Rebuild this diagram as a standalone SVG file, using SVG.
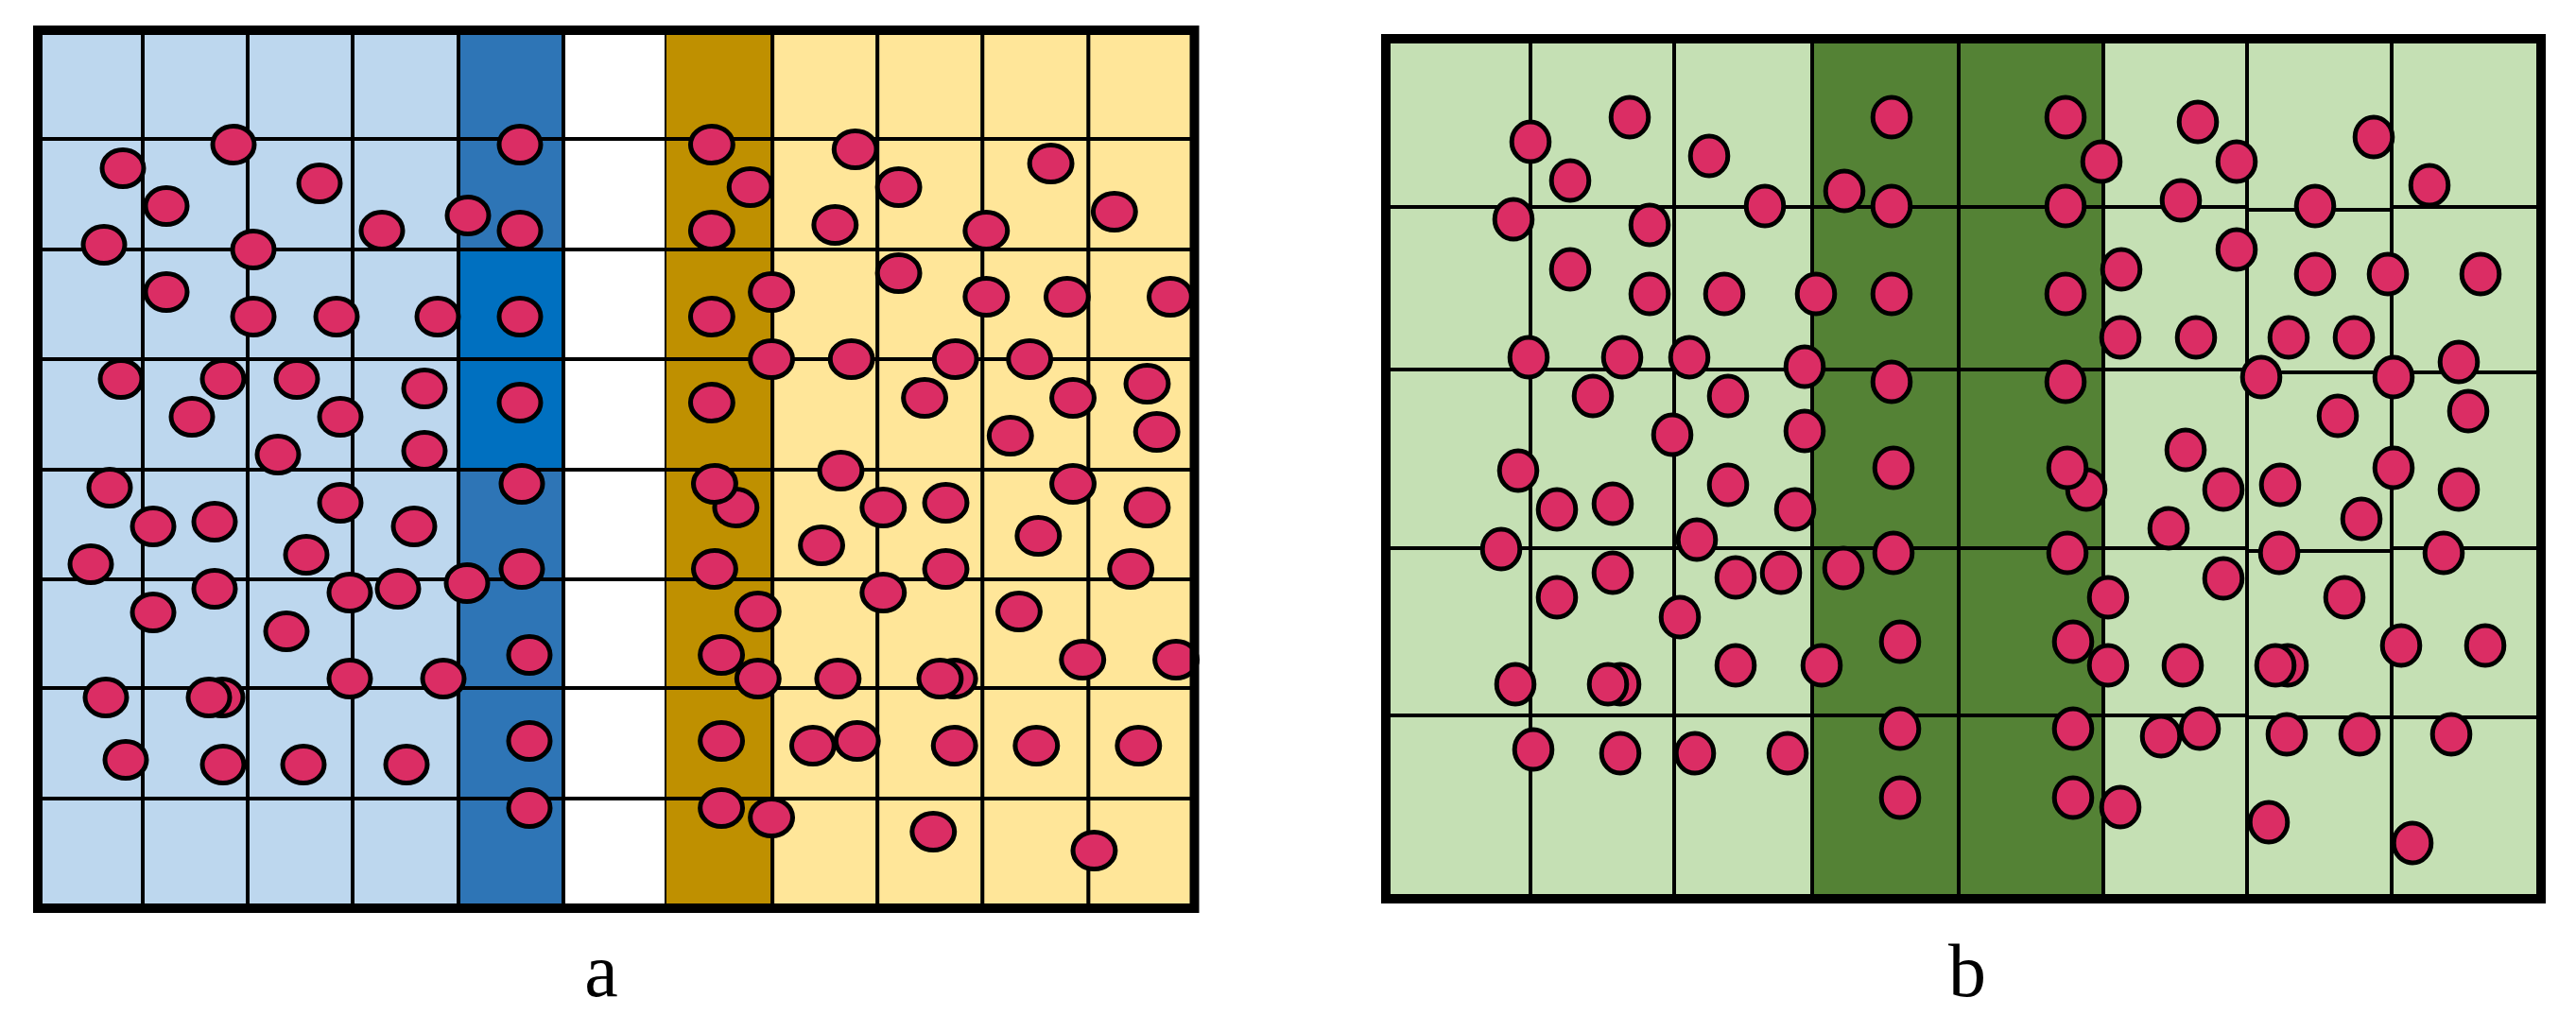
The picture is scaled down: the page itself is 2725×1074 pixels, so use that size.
<svg xmlns="http://www.w3.org/2000/svg" width="2725" height="1074" viewBox="0 0 2725 1074">
<style>
.grid{fill:none;stroke:#000;stroke-width:4}
.frame{fill:none;stroke:#000;stroke-width:10}
.dot{fill:#DB2D64;stroke:#000;stroke-width:5}
.lbl{font-family:"Liberation Serif","Times New Roman",serif;font-size:80px;fill:#000;text-anchor:middle}
</style>
<defs>
<ellipse id="pa" class="dot" cx="0" cy="0" rx="22" ry="19.5"/>
<ellipse id="pb" class="dot" cx="0" cy="0" rx="19.8" ry="21"/>
</defs>
<rect width="2725" height="1074" fill="#fff"/>

<g id="panel-a">
<rect x="40" y="32" width="445" height="929" fill="#BDD7EE"/>
<rect x="485" y="32" width="111" height="232" fill="#2E75B6"/>
<rect x="485" y="264" width="111" height="233" fill="#0070C0"/>
<rect x="485" y="497" width="111" height="464" fill="#2E75B6"/>
<rect x="596" y="32" width="109" height="929" fill="#FFFFFF"/>
<path class="grid" d="M151 32V961M262 32V961M373 32V961M485 32V961M596 32V961M705 32V961M40 147H705M40 264H705M40 380H705M40 497H705M40 613H705M40 728H705M40 845H705"/>
<g id="dots-a-left">
<use href="#pa" x="247" y="153"/><use href="#pa" x="550" y="153"/><use href="#pa" x="130" y="178"/><use href="#pa" x="176" y="218"/><use href="#pa" x="338" y="194"/><use href="#pa" x="110" y="259"/><use href="#pa" x="268" y="264"/><use href="#pa" x="404" y="244"/><use href="#pa" x="495" y="228"/><use href="#pa" x="550" y="244"/><use href="#pa" x="176" y="309"/><use href="#pa" x="268" y="335"/><use href="#pa" x="356" y="335"/><use href="#pa" x="463" y="335"/><use href="#pa" x="550" y="335"/><use href="#pa" x="128" y="401"/><use href="#pa" x="236" y="401"/><use href="#pa" x="314" y="401"/><use href="#pa" x="449" y="411"/><use href="#pa" x="550" y="426"/><use href="#pa" x="203" y="441"/><use href="#pa" x="360" y="441"/><use href="#pa" x="294" y="481"/><use href="#pa" x="449" y="477"/>
<use href="#pa" x="116" y="516"/><use href="#pa" x="552" y="512"/><use href="#pa" x="360" y="532"/><use href="#pa" x="162" y="557"/><use href="#pa" x="227" y="552"/><use href="#pa" x="438" y="557"/><use href="#pa" x="324" y="587"/><use href="#pa" x="96" y="597"/><use href="#pa" x="227" y="623"/><use href="#pa" x="370" y="627"/><use href="#pa" x="421" y="623"/><use href="#pa" x="494" y="617"/><use href="#pa" x="552" y="602"/><use href="#pa" x="162" y="648"/><use href="#pa" x="303" y="668"/><use href="#pa" x="560" y="693"/><use href="#pa" x="370" y="718"/><use href="#pa" x="469" y="718"/><use href="#pa" x="112" y="738"/><use href="#pa" x="235" y="738"/><use href="#pa" x="221" y="738"/><use href="#pa" x="560" y="784"/><use href="#pa" x="133" y="804"/><use href="#pa" x="236" y="809"/><use href="#pa" x="321" y="809"/><use href="#pa" x="430" y="809"/><use href="#pa" x="560" y="855"/>
</g>
<g id="panel-a-right" transform="matrix(1.019 0 0 1 -13.395 0)">
<rect x="705" y="32" width="110" height="929" fill="#BF9000"/>
<rect x="815" y="32" width="438" height="929" fill="#FFE699"/>
<path class="grid" d="M815 32V961M924 32V961M1033 32V961M1143 32V961M705 147H1253M705 264H1253M705 380H1253M705 497H1253M705 613H1253M705 728H1253M705 845H1253"/>
<g id="dots-a-right">
<use href="#pa" x="752" y="153"/><use href="#pa" x="901" y="158"/><use href="#pa" x="792" y="198"/><use href="#pa" x="946" y="198"/><use href="#pa" x="1104" y="173"/><use href="#pa" x="752" y="244"/><use href="#pa" x="880" y="238"/><use href="#pa" x="1037" y="244"/><use href="#pa" x="1170" y="224"/><use href="#pa" x="946" y="289"/><use href="#pa" x="814" y="309"/><use href="#pa" x="752" y="335"/><use href="#pa" x="1037" y="314"/><use href="#pa" x="1121" y="314"/><use href="#pa" x="1228" y="314"/><use href="#pa" x="814" y="380"/><use href="#pa" x="897" y="380"/><use href="#pa" x="1005" y="380"/><use href="#pa" x="1082" y="380"/><use href="#pa" x="1204" y="406"/><use href="#pa" x="973" y="421"/><use href="#pa" x="1127" y="421"/><use href="#pa" x="752" y="426"/><use href="#pa" x="1062" y="461"/><use href="#pa" x="1214" y="457"/>
<use href="#pa" x="886" y="498"/><use href="#pa" x="777" y="537"/><use href="#pa" x="755" y="512"/><use href="#pa" x="1127" y="512"/><use href="#pa" x="930" y="537"/><use href="#pa" x="995" y="532"/><use href="#pa" x="1204" y="537"/><use href="#pa" x="1091" y="567"/><use href="#pa" x="866" y="577"/><use href="#pa" x="755" y="602"/><use href="#pa" x="995" y="602"/><use href="#pa" x="1187" y="602"/><use href="#pa" x="930" y="627"/><use href="#pa" x="800" y="647"/><use href="#pa" x="1071" y="647"/><use href="#pa" x="762" y="693"/><use href="#pa" x="1137" y="698"/><use href="#pa" x="1234" y="698"/><use href="#pa" x="800" y="718"/><use href="#pa" x="883" y="718"/><use href="#pa" x="1004" y="718"/><use href="#pa" x="989" y="718"/><use href="#pa" x="762" y="784"/><use href="#pa" x="857" y="789"/><use href="#pa" x="903" y="784"/><use href="#pa" x="1004" y="789"/><use href="#pa" x="1089" y="789"/><use href="#pa" x="1195" y="789"/><use href="#pa" x="762" y="855"/><use href="#pa" x="814" y="865"/><use href="#pa" x="982" y="880"/><use href="#pa" x="1149" y="900"/>
</g>
</g>
<rect class="frame" x="40" y="32" width="1223.5" height="929"/>
</g>

<g id="panel-b">
<rect x="1466" y="41" width="1222" height="910" fill="#C5E0B4"/>
<rect x="1917" y="41" width="308" height="910" fill="#548235"/>
<path class="grid" d="M1619 41V951M1771 41V951M1917 41V951M2072 41V951M2225 41V951M2377 41V951M2530 41V951M1466 219H2377M2377 222H2530M2530 219H2688M1466 391H2377M2377 394H2688M1466 580H2377M2377 583H2530M2530 580H2688M1466 757H2377M2377 759H2688"/>
<g id="dots-b-left">
<use href="#pb" x="1724" y="124"/><use href="#pb" x="2001" y="124"/><use href="#pb" x="1619" y="150"/><use href="#pb" x="1808" y="165"/><use href="#pb" x="1661" y="191"/><use href="#pb" x="1951" y="202"/><use href="#pb" x="2001" y="218"/><use href="#pb" x="1867" y="218"/><use href="#pb" x="1601" y="232"/><use href="#pb" x="1745" y="238"/><use href="#pb" x="1661" y="285"/><use href="#pb" x="1745" y="311"/><use href="#pb" x="1824" y="311"/><use href="#pb" x="1921" y="311"/><use href="#pb" x="2001" y="311"/><use href="#pb" x="1617" y="378"/><use href="#pb" x="1716" y="378"/><use href="#pb" x="1787" y="378"/><use href="#pb" x="1909" y="388"/><use href="#pb" x="2001" y="404"/><use href="#pb" x="1685" y="419"/><use href="#pb" x="1828" y="419"/><use href="#pb" x="1769" y="460"/><use href="#pb" x="1909" y="456"/>
<use href="#pb" x="1606" y="498"/><use href="#pb" x="2003" y="495"/><use href="#pb" x="1828" y="513"/><use href="#pb" x="1647" y="539"/><use href="#pb" x="1706" y="533"/><use href="#pb" x="1899" y="539"/><use href="#pb" x="1795" y="571"/><use href="#pb" x="1588" y="581"/><use href="#pb" x="2003" y="585"/><use href="#pb" x="1950" y="601"/><use href="#pb" x="1706" y="606"/><use href="#pb" x="1836" y="611"/><use href="#pb" x="1884" y="606"/><use href="#pb" x="1647" y="632"/><use href="#pb" x="1777" y="653"/><use href="#pb" x="2010" y="679"/><use href="#pb" x="1836" y="704"/><use href="#pb" x="1927" y="704"/><use href="#pb" x="1603" y="724"/><use href="#pb" x="1714" y="724"/><use href="#pb" x="1701" y="724"/><use href="#pb" x="2010" y="771"/><use href="#pb" x="1622" y="793"/><use href="#pb" x="1714" y="797"/><use href="#pb" x="1793" y="797"/><use href="#pb" x="1891" y="797"/><use href="#pb" x="2010" y="844"/>
<use href="#pb" x="2185" y="124"/><use href="#pb" x="2185" y="218"/><use href="#pb" x="2185" y="311"/><use href="#pb" x="2185" y="404"/><use href="#pb" x="2207" y="518"/><use href="#pb" x="2187" y="495"/><use href="#pb" x="2187" y="585"/><use href="#pb" x="2193" y="679"/><use href="#pb" x="2193" y="771"/><use href="#pb" x="2193" y="844"/>
</g>
<g id="dots-b-mid" transform="translate(3 0)">
<use href="#pb" x="2220" y="171"/><use href="#pb" x="2241" y="285"/><use href="#pb" x="2240" y="357"/><use href="#pb" x="2227" y="632"/><use href="#pb" x="2227" y="704"/><use href="#pb" x="2240" y="854"/>
</g>
<g id="dots-b-right" transform="translate(6 0)">
<use href="#pb" x="2319" y="129"/><use href="#pb" x="2360" y="171"/><use href="#pb" x="2505" y="145"/><use href="#pb" x="2564" y="196"/><use href="#pb" x="2301" y="212"/><use href="#pb" x="2443" y="218"/><use href="#pb" x="2360" y="264"/><use href="#pb" x="2443" y="290"/><use href="#pb" x="2520" y="290"/><use href="#pb" x="2618" y="290"/><use href="#pb" x="2317" y="357"/><use href="#pb" x="2415" y="357"/><use href="#pb" x="2484" y="357"/><use href="#pb" x="2386" y="399"/><use href="#pb" x="2526" y="399"/><use href="#pb" x="2595" y="383"/><use href="#pb" x="2467" y="440"/><use href="#pb" x="2605" y="435"/><use href="#pb" x="2306" y="476"/>
<use href="#pb" x="2346" y="518"/><use href="#pb" x="2406" y="513"/><use href="#pb" x="2526" y="495"/><use href="#pb" x="2595" y="518"/><use href="#pb" x="2492" y="549"/><use href="#pb" x="2288" y="559"/><use href="#pb" x="2405" y="585"/><use href="#pb" x="2579" y="585"/><use href="#pb" x="2346" y="612"/><use href="#pb" x="2474" y="632"/><use href="#pb" x="2534" y="683"/><use href="#pb" x="2623" y="683"/><use href="#pb" x="2303" y="704"/><use href="#pb" x="2414" y="704"/><use href="#pb" x="2401" y="704"/><use href="#pb" x="2280" y="779"/><use href="#pb" x="2321" y="771"/><use href="#pb" x="2413" y="777"/><use href="#pb" x="2490" y="777"/><use href="#pb" x="2587" y="777"/><use href="#pb" x="2394" y="870"/><use href="#pb" x="2546" y="892"/>
</g>
<rect class="frame" x="1466" y="41" width="1222" height="910"/>
</g>

<g id="labels">
<text class="lbl" x="636" y="1054">a</text>
<text class="lbl" x="2081" y="1054">b</text>
</g>
</svg>
